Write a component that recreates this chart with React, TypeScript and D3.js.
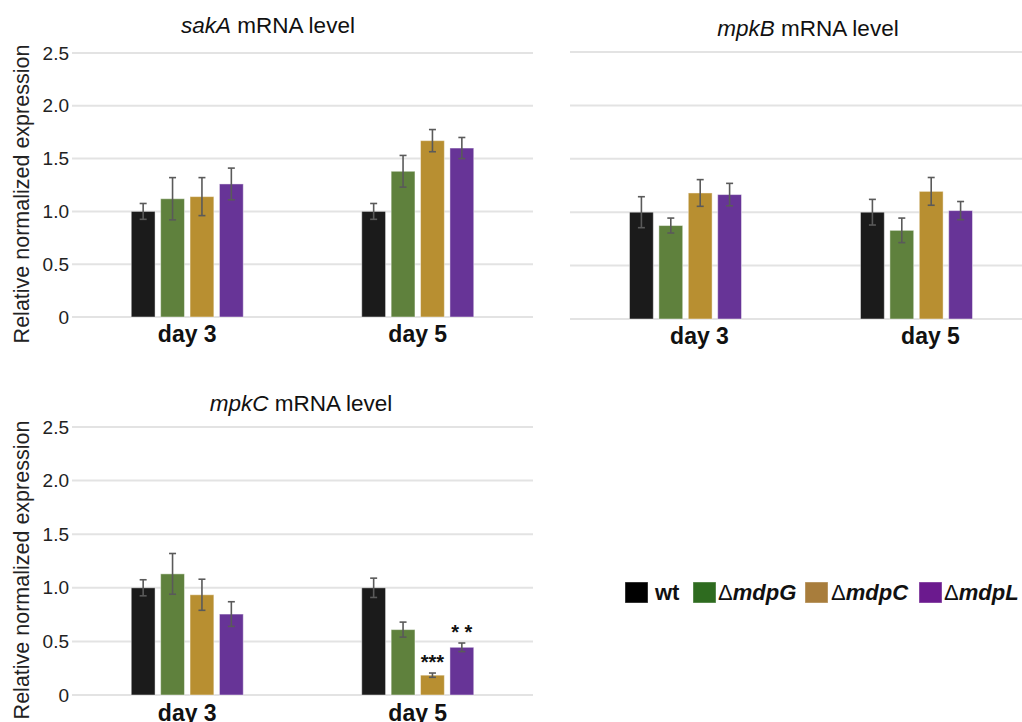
import React from 'react';
import * as d3 from 'd3';

const groups = ['day 3', 'day 5'];
const strains = ['wt', 'mdpG', 'mdpC', 'mdpL'];
const yTicks = [0, 0.5, 1.0, 1.5, 2.0, 2.5];
const yTickLabels = ['0', '0.5', '1.0', '1.5', '2.0', '2.5'];

const sakAMean = [[1.0, 1.12, 1.14, 1.26], [1.0, 1.38, 1.67, 1.6]];
const sakAErr = [[0.075, 0.2, 0.18, 0.15], [0.075, 0.15, 0.105, 0.1]];
const mpkBMean = [[1.0, 0.875, 1.18, 1.165], [1.0, 0.83, 1.195, 1.015]];
const mpkBErr = [[0.145, 0.07, 0.125, 0.105], [0.12, 0.115, 0.13, 0.085]];
const mpkCMean = [[1.0, 1.13, 0.935, 0.755], [1.0, 0.61, 0.185, 0.445]];
const mpkCErr = [[0.075, 0.19, 0.145, 0.115], [0.09, 0.07, 0.02, 0.04]];
const mpkCSig = [['', '', '', ''], ['', '', '***', '* *']];

const barColors = ['#1b1b1b', '#5f813d', '#b88f31', '#673497'];
const legendColors = ['#000000', '#2e6b1f', '#a87d3c', '#6b1a8e'];

const font = '"Liberation Sans", Arial, Helvetica, sans-serif';

type PanelProps = {
  gene: string;
  means: number[][];
  errs: number[][];
  sig?: string[][];
  left: number;
  right: number;
  bandRight: number;
  top: number;
  base: number;
  titleX: number;
  titleY: number;
  showY: boolean;
  labelDx: number;
  labelY: number;
};

function Panel(p: PanelProps) {
  const y = d3.scaleLinear().domain([0, 2.5]).range([p.base, p.top]);
  const x0 = d3.scaleBand().domain(groups).range([p.left, p.bandRight]);
  const x1 = d3.scaleBand().domain(strains).range([-56, 56]).paddingInner(0.19);
  const midY = (p.top + p.base) / 2;

  return (
    <g fontFamily={font}>
      <text x={p.titleX} y={p.titleY} textAnchor="middle" fontSize={22.5} fill="#111">
        <tspan fontStyle="italic">{p.gene}</tspan> mRNA level
      </text>
      {p.showY && (
        <text
          transform={`translate(29,${midY + 9}) rotate(-90)`}
          textAnchor="middle"
          fontSize={21.5}
          fill="#222"
        >
          Relative normalized expression
        </text>
      )}
      {yTicks.map((t, i) => (
        <g key={t}>
          <line x1={p.left} x2={p.right} y1={y(t)} y2={y(t)} stroke="#e3e3e3" strokeWidth={2} />
          {p.showY && (
            <text x={p.left - 3} y={y(t)} dy="0.35em" textAnchor="end" fontSize={19} fill="#222">
              {yTickLabels[i]}
            </text>
          )}
        </g>
      ))}
      {groups.map((g, gi) => {
        const cx = (x0(g) as number) + x0.bandwidth() / 2;
        return (
          <g key={g}>
            {strains.map((s, si) => {
              const bx = cx + (x1(s) as number);
              const w = x1.bandwidth();
              const m = p.means[gi][si];
              const e = p.errs[gi][si];
              const mx = bx + w / 2;
              return (
                <g key={s}>
                  <rect
                    x={bx}
                    y={y(m)}
                    width={w}
                    height={y(0) - y(m)}
                    fill={barColors[si]}
                    stroke="#ffffff"
                    strokeOpacity={0.45}
                    strokeWidth={1}
                  />
                  <g stroke="#5a5a5a" strokeWidth={1.6}>
                    <line x1={mx} x2={mx} y1={y(m + e)} y2={y(m - e)} />
                    <line x1={mx - 3.5} x2={mx + 3.5} y1={y(m + e)} y2={y(m + e)} />
                    <line x1={mx - 3.5} x2={mx + 3.5} y1={y(m - e)} y2={y(m - e)} />
                  </g>
                  {p.sig && p.sig[gi][si] && (
                    <text
                      x={mx}
                      y={y(m + e) - 4}
                      textAnchor="middle"
                      fontSize={20}
                      fontWeight="bold"
                      fill="#111"
                    >
                      {p.sig[gi][si]}
                    </text>
                  )}
                </g>
              );
            })}
            <text
              x={cx + p.labelDx}
              y={p.labelY}
              textAnchor="middle"
              fontSize={23}
              fontWeight="bold"
              fill="#111"
            >
              {g}
            </text>
          </g>
        );
      })}
    </g>
  );
}

function Legend() {
  const items = [
    { x: 625, tx: 655, label: 'wt', delta: false },
    { x: 693, tx: 718, label: 'mdpG', delta: true },
    { x: 805, tx: 831, label: 'mdpC', delta: true },
    { x: 919, tx: 944, label: 'mdpL', delta: true },
  ];
  return (
    <g fontFamily={font} fontWeight="bold" fontSize={22}>
      {items.map((it, i) => (
        <g key={it.label}>
          <rect x={it.x} y={582} width={23} height={21} fill={legendColors[i]} stroke="#ffffff" strokeOpacity={0.4} />
          <text x={it.tx} y={600} fill="#111">
            {it.delta ? (
              <>
                <tspan fontWeight="normal">Δ</tspan>
                <tspan fontStyle="italic">{it.label}</tspan>
              </>
            ) : (
              it.label
            )}
          </text>
        </g>
      ))}
    </g>
  );
}

export default function App() {
  return (
    <svg
      width={1022}
      height={722}
      style={{ position: 'absolute', left: 0, top: 0, background: '#fff' }}
    >
      <Panel
        gene="sakA"
        means={sakAMean}
        errs={sakAErr}
        left={72}
        right={533}
        bandRight={533}
        top={53}
        base={317}
        titleX={268}
        titleY={33}
        showY={true}
        labelDx={0}
        labelY={342}
      />
      <Panel
        gene="mpkB"
        means={mpkBMean}
        errs={mpkBErr}
        left={570}
        right={1022}
        bandRight={1032}
        top={52}
        base={319}
        titleX={808}
        titleY={36}
        showY={false}
        labelDx={14}
        labelY={344}
      />
      <Panel
        gene="mpkC"
        means={mpkCMean}
        errs={mpkCErr}
        sig={mpkCSig}
        left={72}
        right={533}
        bandRight={533}
        top={427}
        base={695}
        titleX={301}
        titleY={411}
        showY={true}
        labelDx={0}
        labelY={721}
      />
      <Legend />
    </svg>
  );
}
